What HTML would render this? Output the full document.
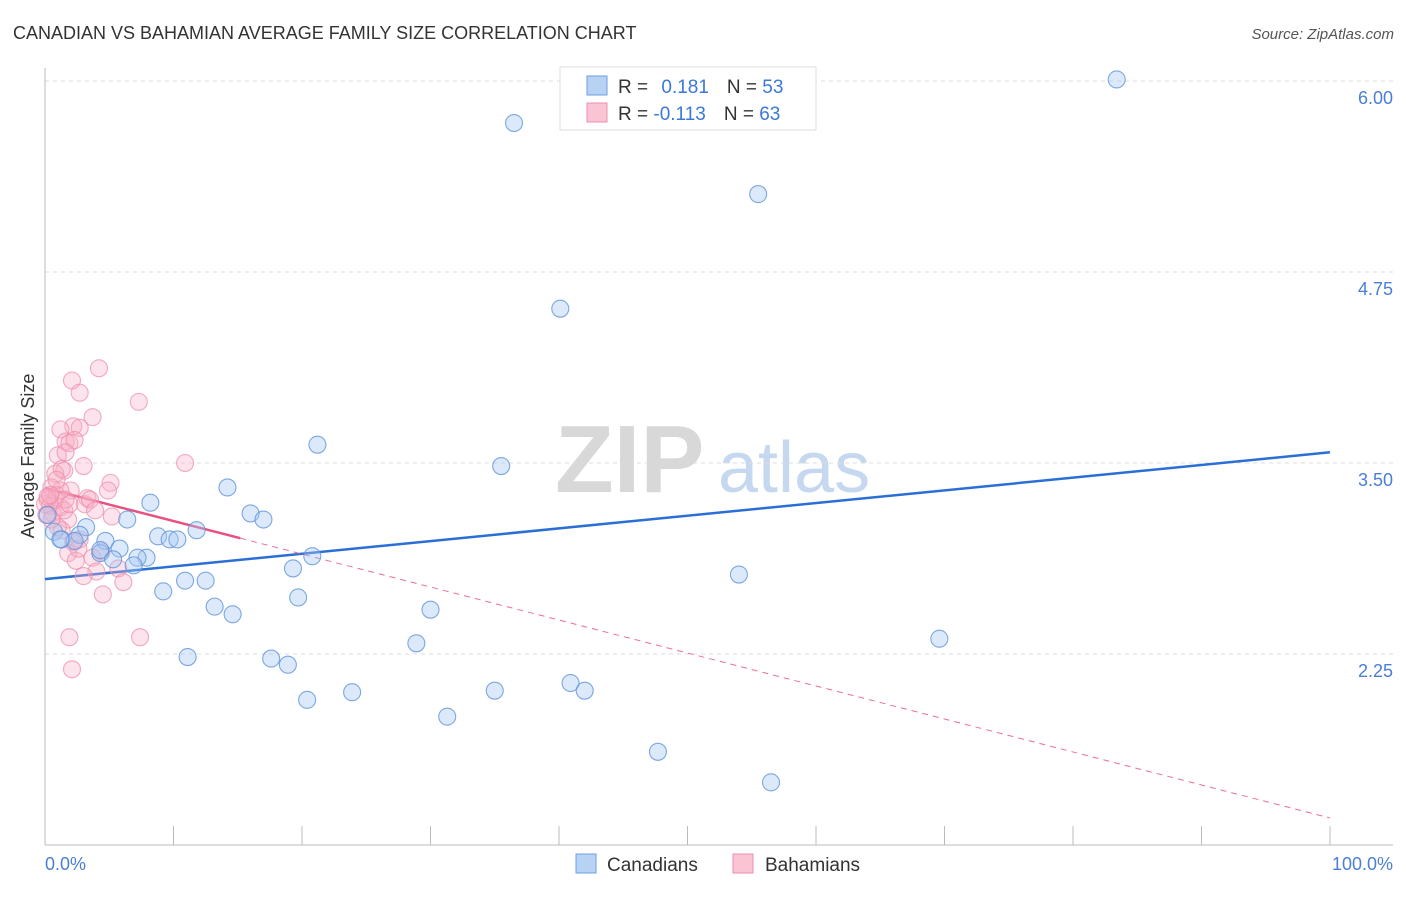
<!DOCTYPE html>
<html><head><meta charset="utf-8"><style>
body{margin:0;background:#fff;font-family:"Liberation Sans",sans-serif}
svg text{font-family:"Liberation Sans",sans-serif}
</style></head><body>
<svg id="chart" width="1406" height="892" xmlns="http://www.w3.org/2000/svg">
<text x="13" y="39" font-size="18" fill="#333">CANADIAN VS BAHAMIAN AVERAGE FAMILY SIZE CORRELATION CHART</text>
<text x="1394" y="39" font-size="15" fill="#555" text-anchor="end" font-style="italic">Source: ZipAtlas.com</text>
<g>
<text x="555" y="492" font-size="96" fill="#d8d8d8" font-family="Liberation Serif" font-weight="bold">ZIP</text>
<text x="718" y="492" font-size="72" fill="#c5d8f0">atlas</text>
</g>
<g id="grid"></g>
<g id="axes"></g>
<g id="trend"></g>
<g id="pts"></g>
<text transform="translate(34,456) rotate(-90)" font-size="18" fill="#333" text-anchor="middle">Average Family Size</text>
<text x="45" y="870" font-size="18" fill="#4a7fd4">0.0%</text>
<text x="1393" y="870" font-size="18" fill="#4a7fd4" text-anchor="end">100.0%</text>
<g>
<rect x="560" y="67" width="256" height="63" fill="#fff" stroke="#ddd"/>
<rect x="587" y="76" width="20" height="19" fill="#b8d2f4" stroke="#6d9ee0"/>
<rect x="587" y="103" width="20" height="19" fill="#fac4d4" stroke="#eb90ad"/>
<text x="618" y="93" font-size="19" fill="#333">R = <tspan fill="#3b78d8" dx="8">0.181</tspan><tspan dx="18">N = </tspan><tspan fill="#3b78d8">53</tspan></text>
<text x="618" y="120" font-size="19" fill="#333">R = <tspan fill="#3b78d8">-0.113</tspan><tspan dx="18">N = </tspan><tspan fill="#3b78d8">63</tspan></text>
</g>
<g>
<rect x="576" y="854" width="20" height="19" fill="#b8d2f4" stroke="#6d9ee0"/>
<text x="607" y="871" font-size="19" fill="#333">Canadians</text>
<rect x="733" y="854" width="20" height="19" fill="#fac4d4" stroke="#eb90ad"/>
<text x="765" y="871" font-size="19" fill="#333">Bahamians</text>
</g>
</svg>
<script>
const yTicks=[6.00,4.75,3.50,2.25];
const yTickLabels=["6.00","4.75","3.50","2.25"];
const xTicks=[0,10,20,30,40,50,60,70,80,90,100];
const canX=[83.4,36.5,55.5,40.1,21.2,35.5,14.2,8.2,16.0,17.0,6.4,11.8,3.2,0.7,2.7,8.8,9.7,10.3,4.7,1.3,2.3,5.8,4.3,7.9,7.2,5.3,6.9,20.8,19.3,10.9,12.5,54.0,9.2,19.7,13.2,30.0,14.6,28.9,69.6,11.1,17.6,18.9,23.9,20.4,35.0,40.9,42.0,31.3,47.7,56.5,0.2,1.2,4.3];
const canY=[6.01,5.725,5.26,4.51,3.62,3.48,3.34,3.24,3.17,3.13,3.13,3.06,3.08,3.05,3.03,3.02,3.00,3.00,2.99,3.00,2.99,2.94,2.91,2.88,2.88,2.87,2.83,2.89,2.81,2.73,2.73,2.77,2.66,2.62,2.56,2.54,2.51,2.32,2.35,2.23,2.22,2.18,2.00,1.95,2.01,2.06,2.01,1.84,1.61,1.41,3.16,3.00,2.93];
const bahX=[4.2,2.1,2.7,7.3,3.7,2.2,1.2,2.7,1.6,1.9,2.3,1.0,1.6,10.9,3.0,1.5,0.8,1.3,5.1,0.5,4.9,2.0,3.3,0.9,3.1,0.2,0.4,1.2,0.6,0.0,5.2,1.8,1.3,1.0,2.7,2.2,4.4,1.8,2.4,3.7,5.7,4.0,3.0,6.1,4.5,1.9,7.4,2.1,0.8,0.2,1.5,3.5,0.5,1.2,0.1,2.6,1.6,0.9,3.9,0.4,1.9];
const bahY=[4.12,4.04,3.96,3.90,3.80,3.74,3.72,3.73,3.64,3.63,3.65,3.55,3.57,3.50,3.48,3.45,3.43,3.46,3.37,3.34,3.32,3.32,3.27,3.29,3.23,3.26,3.22,3.21,3.17,3.23,3.15,3.13,3.06,3.08,3.00,2.98,2.92,2.91,2.86,2.88,2.81,2.79,2.76,2.72,2.64,2.36,2.36,2.15,3.26,3.28,3.19,3.26,3.13,3.32,3.16,2.94,3.26,3.39,3.19,3.29,3.23];
const canTrend=[2.74,3.57];
const bahTrend=[3.336,1.177];
const bahSolidEnd=15.2;
const NS="http://www.w3.org/2000/svg";
const xs=v=>45+v*12.85;
const ys=v=>463+(3.5-v)*152.8;
function mk(t,a,p){const e=document.createElementNS(NS,t);for(const k in a)e.setAttribute(k,a[k]);p.appendChild(e);return e;}
const grid=document.getElementById('grid');
yTicks.forEach((t,i)=>{
 const l=mk('line',{x1:45,x2:1393,y1:ys(t),y2:ys(t),stroke:'#ddd','stroke-dasharray':'4,4'},grid);
 
 
 const tx=mk('text',{x:1393,y:ys(t)+23,'font-size':18,fill:'#4a7fd4','text-anchor':'end'},grid);
 tx.textContent=yTickLabels[i];
 
 
});
const ax=document.getElementById('axes');
mk('line',{x1:45,x2:45,y1:68,y2:845,stroke:'#bbb'},ax);
mk('line',{x1:45,x2:1393,y1:845,y2:845,stroke:'#bbb'},ax);
xTicks.forEach(t=>{
 const l=mk('line',{x1:xs(t),x2:xs(t),y1:826,y2:845,stroke:'#bbb'},ax);
 
 
});
const tr=document.getElementById('trend');
const bl=mk('line',{x1:xs(0),y1:ys(canTrend[0]),x2:xs(100),y2:ys(canTrend[1]),stroke:'#2a6fd6','stroke-width':2.5},tr);


const pyAt=x=>bahTrend[0]+(bahTrend[1]-bahTrend[0])*x/100;
const pd=mk('line',{x1:xs(bahSolidEnd),y1:ys(pyAt(bahSolidEnd)),x2:xs(100),y2:ys(bahTrend[1]),stroke:'#ec6f96','stroke-width':1,'stroke-dasharray':'6,5'},tr);


const pts=document.getElementById('pts');
bahX.forEach((x,i)=>{
 const c=mk('circle',{cx:xs(x),cy:ys(bahY[i]),r:8.5,fill:'rgba(248,175,198,0.35)',stroke:'rgba(236,143,174,0.75)','stroke-width':1.1},pts);
 
 
});
canX.forEach((x,i)=>{
 const c=mk('circle',{cx:xs(x),cy:ys(canY[i]),r:8.5,fill:'rgba(168,200,242,0.4)',stroke:'rgba(95,147,220,0.8)','stroke-width':1.1},pts);
 
 
});
const ps=mk('line',{x1:xs(0),y1:ys(bahTrend[0]),x2:xs(bahSolidEnd),y2:ys(pyAt(bahSolidEnd)),stroke:'#e8517f','stroke-width':2.5},tr);


</script>
</body></html>
